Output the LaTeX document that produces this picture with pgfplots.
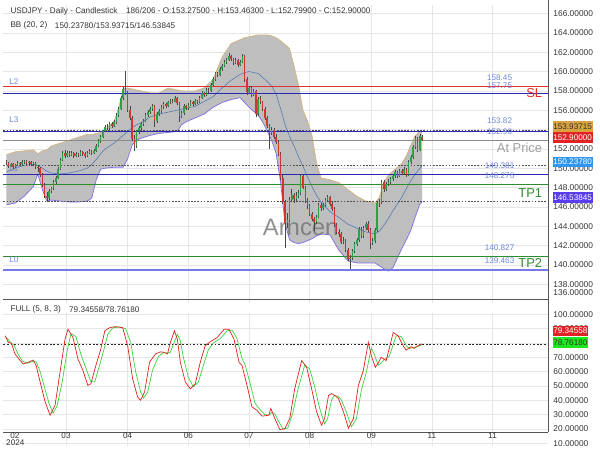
\documentclass[border=0pt]{standalone}
\usepackage{fontspec}
\setmainfont{Liberation Sans}
\usepackage{pgfplots}
\usepackage{pgfplotstable}
\pgfplotsset{compat=1.18}
\usepgfplotslibrary{fillbetween}

\definecolor{cgreen}{HTML}{2EA046}
\definecolor{cred}{HTML}{D73232}
\definecolor{wick}{HTML}{484848}
\definecolor{bbfill}{HTML}{BEBEBE}
\definecolor{bbup}{HTML}{D8B070}
\definecolor{bblo}{HTML}{786EE6}
\definecolor{bbmid}{HTML}{4678B4}
\definecolor{lvred}{HTML}{E03030}
\definecolor{lvblue}{HTML}{2828B4}
\definecolor{lvgreen}{HTML}{2E8B2E}
\definecolor{lvgray}{HTML}{8C8C8C}
\definecolor{lvzero}{HTML}{7878E6}
\definecolor{dotc}{HTML}{505050}
\definecolor{gridc}{HTML}{E6E6E6}
\definecolor{axisc}{HTML}{555555}
\definecolor{lblue}{HTML}{6F85DC}
\definecolor{txt}{HTML}{333333}
\definecolor{stred}{HTML}{E02020}
\definecolor{stgreen}{HTML}{3CD23C}
\definecolor{bdgold}{HTML}{D9A23C}
\definecolor{bdred}{HTML}{E02424}
\definecolor{bdblue}{HTML}{2F96F0}
\definecolor{bdpurple}{HTML}{5A3CF0}
\definecolor{bdgreen}{HTML}{1EE61E}

\newcommand\sm{\fontsize{8.2}{9.5}\selectfont}
\newcommand\bigf{\fontsize{13}{15}\selectfont}

% daily candles: bar index, open, high, low, close
\pgfplotstableread{
i o h l c
0 150.70 150.85 150.30 150.50
1 150.50 150.60 150.00 150.20
2 150.20 150.55 150.10 150.40
3 150.40 150.50 149.90 150.10
4 150.10 150.45 150.00 150.30
5 150.30 150.70 150.20 150.50
6 150.50 150.65 150.25 150.40
7 150.40 150.80 150.30 150.60
8 150.60 150.90 150.45 150.70
9 150.70 150.80 150.30 150.50
10 150.50 150.75 150.35 150.60
11 150.60 150.70 150.20 150.40
12 150.40 150.65 150.30 150.50
13 150.50 150.60 149.90 150.10
14 150.10 150.30 149.60 150.00
15 150.00 150.10 149.10 149.30
16 149.30 149.50 148.10 148.30
17 148.30 148.50 146.90 147.10
18 147.10 147.50 146.50 146.90
19 146.90 147.80 146.70 147.60
20 147.60 148.10 147.40 147.90
21 147.90 148.80 147.70 148.60
22 148.60 149.20 148.40 149.00
23 149.00 150.10 148.90 149.90
24 149.90 151.10 149.80 150.90
25 150.90 151.80 150.70 151.60
26 151.60 151.85 151.10 151.30
27 151.30 151.80 151.20 151.60
28 151.60 151.75 151.20 151.40
29 151.40 151.80 151.30 151.60
30 151.60 151.70 151.10 151.30
31 151.30 151.65 151.20 151.50
32 151.50 151.60 151.20 151.40
33 151.40 151.85 151.30 151.70
34 151.70 151.80 151.30 151.50
35 151.50 151.65 151.10 151.30
36 151.30 151.75 151.20 151.60
37 151.60 151.95 151.50 151.80
38 151.80 151.90 151.40 151.60
39 151.60 151.95 151.50 151.80
40 151.80 152.50 151.70 152.30
41 152.30 153.00 152.20 152.80
42 152.80 153.40 152.60 153.20
43 153.20 154.00 153.10 153.90
44 153.90 154.50 153.70 154.30
45 154.30 154.60 154.00 154.20
46 154.20 154.80 154.00 154.60
47 154.60 154.80 154.20 154.40
48 154.40 155.00 154.30 154.80
49 154.80 155.70 154.60 155.50
50 155.50 156.30 155.30 156.10
51 156.10 157.50 156.00 157.30
52 157.30 158.40 157.10 158.20
53 158.20 160.10 157.60 157.80
54 157.80 158.00 155.80 156.00
55 156.00 156.40 155.00 155.20
56 155.20 155.40 152.80 153.00
57 153.00 153.40 151.80 152.30
58 152.30 154.00 152.10 153.80
59 153.80 154.40 153.50 154.20
60 154.20 154.80 154.00 154.60
61 154.60 155.10 154.40 154.90
62 154.90 155.70 154.80 155.50
63 155.50 156.00 155.30 155.80
64 155.80 156.30 155.60 156.10
65 156.10 156.60 155.90 156.40
66 156.40 156.50 154.30 154.90
67 154.90 155.80 154.70 155.60
68 155.60 156.10 155.40 155.90
69 155.90 156.50 155.70 156.30
70 156.30 156.80 156.10 156.60
71 156.60 156.75 156.20 156.40
72 156.40 157.00 156.30 156.80
73 156.80 157.20 156.60 157.00
74 157.00 157.20 156.70 156.90
75 156.90 157.50 156.80 157.30
76 157.30 157.40 156.50 156.70
77 156.70 156.80 154.80 155.40
78 155.40 155.90 155.20 155.70
79 155.70 156.60 155.50 156.40
80 156.40 156.50 156.00 156.20
81 156.20 156.70 156.00 156.50
82 156.50 157.10 156.40 156.90
83 156.90 157.00 156.40 156.60
84 156.60 157.20 156.50 157.00
85 157.00 157.10 156.60 156.80
86 156.80 157.50 156.70 157.30
87 157.30 158.00 157.20 157.80
88 157.80 157.90 157.40 157.60
89 157.60 158.30 157.50 158.10
90 158.10 158.30 157.80 158.00
91 158.00 158.80 157.90 158.60
92 158.60 159.40 158.50 159.20
93 159.20 160.00 159.00 159.80
94 159.80 160.00 159.40 159.60
95 159.60 160.50 159.50 160.30
96 160.30 160.80 160.10 160.60
97 160.60 161.20 160.50 161.00
98 161.00 161.40 160.80 161.20
99 161.20 161.90 161.10 161.60
100 161.60 161.75 161.10 161.30
101 161.30 161.40 160.70 160.90
102 160.90 161.40 160.80 161.20
103 161.20 161.30 160.50 160.70
104 160.70 161.20 160.60 161.00
105 161.00 161.80 160.90 161.60
106 161.60 161.70 158.90 159.20
107 159.20 159.40 157.60 157.90
108 157.90 158.50 157.70 158.30
109 158.30 158.50 157.40 157.60
110 157.60 158.20 157.50 158.00
111 158.00 158.10 155.30 155.60
112 155.60 157.40 155.40 157.20
113 157.20 157.50 156.60 156.80
114 156.80 157.00 155.90 156.10
115 156.10 156.30 155.00 155.20
116 155.20 155.40 154.20 154.40
117 154.40 154.60 152.00 153.60
118 153.60 154.30 153.40 154.00
119 154.00 154.20 153.00 153.20
120 153.20 153.50 152.50 152.70
121 152.70 152.90 151.30 151.50
122 151.50 151.70 148.80 149.00
123 149.00 149.30 146.30 146.50
124 146.50 146.70 141.70 144.30
125 144.30 145.40 143.80 144.60
126 144.60 147.00 144.40 146.70
127 146.70 147.80 146.50 147.20
128 147.20 147.40 146.40 146.80
129 146.80 147.50 146.50 147.10
130 147.10 147.70 146.90 147.40
131 147.40 149.40 147.20 149.20
132 149.20 149.30 147.80 148.00
133 148.00 148.20 146.40 146.60
134 146.60 146.90 145.80 146.10
135 146.10 146.30 145.10 145.30
136 145.30 145.50 144.50 144.70
137 144.70 145.00 143.50 144.40
138 144.40 145.20 144.20 144.90
139 144.90 146.40 144.80 146.20
140 146.20 146.40 145.60 145.90
141 145.90 146.40 145.70 146.20
142 146.20 146.90 146.00 146.70
143 146.70 147.20 146.50 147.00
144 147.00 147.10 146.10 146.30
145 146.30 146.50 145.60 145.80
146 145.80 146.00 143.90 144.10
147 144.10 144.30 143.20 143.40
148 143.40 143.70 142.90 143.20
149 143.20 143.40 142.20 142.40
150 142.40 142.90 142.20 142.50
151 142.50 142.70 141.30 141.50
152 141.50 141.70 140.40 140.60
153 140.60 141.00 139.60 140.70
154 140.70 141.60 140.50 141.40
155 141.40 142.40 141.20 142.20
156 142.20 142.80 142.00 142.60
157 142.60 143.90 142.40 143.70
158 143.70 143.90 142.80 143.00
159 143.00 144.00 142.80 143.80
160 143.80 144.40 143.60 144.20
161 144.20 144.50 143.40 143.60
162 143.60 143.80 141.60 142.30
163 142.30 142.80 142.10 142.50
164 142.50 143.80 142.30 143.60
165 143.60 146.60 143.40 146.40
166 146.40 146.80 146.00 146.50
167 146.50 148.80 146.30 148.60
168 148.60 148.80 147.50 147.80
169 147.80 148.60 147.60 148.40
170 148.40 148.90 148.20 148.60
171 148.60 149.10 148.40 148.90
172 148.90 149.40 148.70 149.20
173 149.20 149.80 149.00 149.60
174 149.60 149.70 149.00 149.20
175 149.20 149.90 149.10 149.70
176 149.70 149.90 149.30 149.50
177 149.50 150.10 149.30 149.90
178 149.90 150.00 149.10 149.30
179 149.30 150.80 149.20 150.60
180 150.60 151.40 150.40 151.20
181 151.20 152.40 151.00 152.20
182 152.20 153.30 152.00 153.10
183 153.10 153.20 151.70 151.90
184 151.90 153.50 151.80 153.30
185 153.275 153.463 152.799 152.900
}\candles

% Bollinger bands (20,2): upper, middle, lower
\pgfplotstableread{
i u m d
0 151.4 149.6 146.2
4 151.7 150.0 146.4
8 151.8 150.3 147.1
12 151.9 150.4 148.1
14 151.5 150.3 149.4
16 151.8 150.0 147.8
18 151.9 149.7 146.6
20 152.3 149.5 146.7
24 152.6 149.4 146.6
28 152.9 149.5 146.5
32 153.2 149.7 146.5
36 153.5 150.0 146.6
38 153.5 150.4 146.9
40 153.6 150.9 148.8
42 153.7 151.5 149.9
44 154.0 152.0 150.0
48 154.9 152.6 150.1
50 156.3 153.0 150.1
52 158.2 153.4 150.1
54 158.3 153.8 151.0
56 158.2 154.2 152.4
58 158.1 154.5 152.9
60 158.0 154.7 153.1
64 157.8 155.3 153.4
68 157.8 155.6 153.6
72 158.3 155.8 153.7
76 158.1 156.0 153.8
78 158.0 156.1 154.5
80 158.0 156.2 154.8
84 158.0 156.4 155.2
88 158.3 156.9 155.6
92 159.2 157.4 156.3
96 161.5 158.3 156.8
100 162.9 159.1 157.1
104 163.3 159.7 157.3
106 163.5 159.9 156.8
108 163.6 160.0 156.3
110 163.7 159.9 155.9
112 163.8 159.8 155.5
114 163.8 159.4 154.8
116 163.8 159.0 153.9
118 163.7 158.5 152.9
120 163.5 157.7 151.6
122 163.2 156.2 148.6
124 162.8 154.5 144.3
126 162.4 153.3 142.6
128 160.6 152.3 142.3
130 158.6 151.2 142.2
132 156.0 150.2 142.3
134 154.9 149.1 142.5
136 153.4 148.1 142.7
138 150.6 147.2 143.0
140 149.0 146.5 143.2
144 148.8 145.5 143.1
148 148.5 144.9 141.5
152 147.8 144.2 140.4
156 147.1 143.8 140.2
160 146.6 143.4 140.2
164 146.4 143.2 140.2
166 147.0 143.5 139.9
168 148.6 144.1 139.6
170 149.3 144.8 139.35
172 149.7 145.6 139.7
174 150.1 146.3 140.7
176 150.5 147.0 141.7
178 151.3 147.9 142.6
180 152.4 148.7 143.6
182 153.4 149.4 145.0
184 153.85 150.0 146.3
185 153.937 150.238 146.538
}\bb

% stochastic FULL (5,8,3), x in chart pixels
\pgfplotstableread{
px k
1.7 85.0
5 80.4
8 79.9
11.7 72.3
16 68.5
20 65.3
25 66.5
30 68.1
33 64.2
37 52.7
42 38.8
47 29.5
52 36.5
57 59.6
62 82.6
65 89.6
70 83.8
75 68.8
80 60.8
85 50.4
88 51.5
93 64.2
98 75.7
102 88.5
107 90.7
113 91.4
120 90.7
125 78.1
130 55.0
135 42.3
138 40.0
142 45.7
147 66.5
153 72.3
158 73.8
162 73.4
165 72.3
168 80.4
172 88.5
175 82.6
178 66.5
183 52.7
188 48.0
193 51.5
198 66.5
203 78.1
208 80.8
215 83.8
222 89.6
227 89.6
232 82.6
237 66.5
240 64.2
245 50.4
250 35.3
255 33.0
260 28.9
264 29.2
267 29.6
269 34.2
273 27.2
278 19.5
283 20.0
288 27.2
293 48.0
300 67.7
305 63.0
310 48.0
315 31.9
320 22.5
323 27.2
327 43.4
330 44.6
334 43.0
337 41.1
342 31.9
347 20.5
352 27.2
357 50.4
362 60.8
367 80.4
370 71.2
374 63.0
377 66.0
380 70.0
385 67.7
392 87.3
397 85.0
402 78.1
405 75.0
410 77.4
413 76.2
417 78.1
421 79.35
}\stk

\pgfplotstableread{
px d
3 84.0
7 80.5
11 78.0
15 72.0
19 67.5
24 65.8
29 67.0
33 66.8
37 60.0
41 50.0
46 37.5
50 31.0
54 36.0
59 52.0
64 74.0
68 86.5
73 84.5
78 72.0
83 62.5
88 53.0
92 53.0
96 62.5
101 75.0
105 86.0
110 90.5
116 91.2
123 90.0
128 80.5
133 60.0
138 46.0
141 41.5
145 45.5
150 61.0
156 70.5
161 73.3
165 73.0
168 73.5
171 79.0
175 86.0
178 81.5
181 70.0
186 56.0
191 49.5
196 52.5
201 64.0
206 75.0
211 80.0
218 83.0
225 88.5
230 89.0
235 83.0
240 69.0
243 65.0
248 52.0
253 38.0
258 33.5
263 30.0
267 29.5
270 31.5
273 30.5
277 25.0
281 20.0
286 20.5
291 31.0
296 47.0
303 64.5
308 62.0
313 49.5
318 34.5
323 23.5
326 27.0
330 40.0
333 43.5
337 42.5
340 40.0
345 31.5
350 21.5
355 27.0
360 47.0
365 59.5
370 76.5
373 72.0
377 64.5
380 66.0
383 68.5
388 70.5
395 85.0
400 84.5
405 78.5
408 76.0
413 77.0
417 77.5
421 78.76
}\std

\pgfplotsset{
  chart/.style={
    scale only axis, anchor=south west, width=548pt,
    xmin=0, xmax=548, clip=false,
    axis line style={draw=none}, major tick length=0pt,
    xtick={63,125,186,247,308,370,431,492}, xticklabels={},
    grid=major, major grid style={draw=gridc, line width=0.5pt},
    yticklabel pos=right, scaled y ticks=false,
    yticklabel style={anchor=west, inner sep=0pt, xshift=5pt, text=txt,
      font=\fontsize{8.4}{10}\selectfont,
      /pgf/number format/.cd, fixed, fixed zerofill, precision=5, assume math mode=true},
  },
  candle/.style={draw=none, mark=none, forget plot,
    error bars/.cd, y dir=plus, y explicit, error mark=none},
}

\begin{document}
\pagecolor{white}
\begin{tikzpicture}[x=1pt,y=1pt]
\path (0,0) rectangle (600,450);

% ---------- price panel ----------
\begin{axis}[chart, at={(0,150)}, height=300pt,
  ymin=136.06, ymax=166.93, ytick={138,140,...,166}]
\addplot[draw=none, name path=bbu, forget plot] table[x expr=3+2.26*\thisrow{i}, y=u] {\bb};
\addplot[draw=none, name path=bbd, forget plot] table[x expr=3+2.26*\thisrow{i}, y=d] {\bb};
\addplot[fill=bbfill, forget plot] fill between[of=bbu and bbd];
\addplot[bbmid, line width=0.55pt] table[x expr=3+2.26*\thisrow{i}, y=m] {\bb};
\addplot[bbup, line width=0.6pt] table[x expr=3+2.26*\thisrow{i}, y=u] {\bb};
\addplot[bblo, line width=0.7pt] table[x expr=3+2.26*\thisrow{i}, y=d] {\bb};

\node[text=gray!85!black, opacity=0.75, font=\fontsize{24}{26}\selectfont] at (axis cs:299,143.9) {Arncen};
\node[text=lblue, font=\sm] at (axis cs:10.5,149.95) {L1};

% levels
\addplot[lvred, line width=0.8pt] coordinates {(0,158.45) (548,158.45)};
\addplot[lvblue, line width=0.8pt] coordinates {(0,157.75) (548,157.75)};
\addplot[dotc, line width=0.9pt, dash pattern=on 1.6pt off 1.6pt] coordinates {(0,153.93715) (548,153.93715)};
\addplot[lvblue, line width=0.8pt] coordinates {(0,153.82) (548,153.82)};
\addplot[lvgray, line width=0.8pt] coordinates {(0,152.90) (548,152.90)};
\addplot[dotc, line width=0.9pt, dash pattern=on 1.6pt off 1.6pt] coordinates {(0,150.2378) (548,150.2378)};
\addplot[lvblue, line width=0.8pt] coordinates {(0,149.381) (548,149.381)};
\addplot[lvgreen, line width=0.8pt] coordinates {(0,148.276) (548,148.276)};
\addplot[dotc, line width=0.9pt, dash pattern=on 1.6pt off 1.6pt] coordinates {(0,146.53845) (548,146.53845)};
\addplot[lvgreen, line width=0.8pt] coordinates {(0,140.827) (548,140.827)};
\addplot[lvzero, line width=1.1pt] coordinates {(0,139.463) (548,139.463)};

% candles: wick, then rising and falling bodies (zero length bodies vanish)
\addplot[candle, error bar style={draw=wick, line width=0.55pt}]
  table[x expr=3+2.26*\thisrow{i}, y=l, y error expr=\thisrow{h}-\thisrow{l}] {\candles};
\addplot[candle, error bar style={draw=cgreen, line width=1.5pt, line cap=butt}]
  table[x expr=3+2.26*\thisrow{i}, y=o, y error expr={max(\thisrow{c}-\thisrow{o},0)}] {\candles};
\addplot[candle, error bar style={draw=cred, line width=1.5pt, line cap=butt}]
  table[x expr=3+2.26*\thisrow{i}, y=c, y error expr={max(\thisrow{o}-\thisrow{c},0)}] {\candles};
\end{axis}

% ---------- stochastic panel ----------
\begin{axis}[chart, at={(0,16)}, height=133pt,
  ymin=8.3, ymax=100.7, ytick={10,20,...,100}]
\addplot[black!85, line width=1.2pt, dash pattern=on 1.8pt off 1.8pt] coordinates {(0,79.0) (548,79.0)};
\addplot[stgreen, line width=0.7pt] table[x=px, y=d] {\std};
\addplot[stred, line width=0.7pt] table[x=px, y=k] {\stk};
\end{axis}

% frame lines
\draw[axisc, line width=0.8pt] (548,450) -- (548,16);
\draw[axisc, line width=0.8pt] (0,149.5) -- (548,149.5);
\draw[axisc, line width=0.8pt] (0,16) -- (548,16);

% headers
\node[anchor=west, inner sep=0pt, text=txt, font=\sm] at (7,439.3) {USDJPY - Daily - Candlestick};
\node[anchor=west, inner sep=0pt, text=txt, font=\sm] at (123.3,439.3) {186/206 - O:153.27500 - H:153.46300 - L:152.79900 - C:152.90000};
\node[anchor=west, inner sep=0pt, text=txt, font=\sm] at (7,425) {BB (20, 2)};
\node[anchor=west, inner sep=0pt, text=txt, font=\sm] at (51.7,425) {150.23780/153.93715/146.53845};
\node[anchor=west, inner sep=0pt, text=txt, font=\sm] at (7,139) {FULL (5, 8, 3)};
\node[anchor=west, inner sep=0pt, text=txt, font=\sm] at (66,139) {79.34558/78.76180};

% date labels
\begin{scope}[every node/.style={inner sep=0pt, text=txt, font=\sm}]
\node at (11.5,12.5) {02};
\node at (12,5) {2024};
\node at (63,12.5) {03};
\node at (125,12.5) {04};
\node at (186,12.5) {06};
\node at (247,12.5) {07};
\node at (308,12.5) {08};
\node at (370,12.5) {09};
\node at (431,12.5) {11};
\node at (492,12.5) {11};
\end{scope}

% level labels
\begin{scope}[every node/.style={inner sep=0pt, text=lblue, font=\sm}]
\node at (499,372.3) {158.45};
\node at (499,364.3) {157.75};
\node at (499,329) {153.82};
\node at (499,318.3) {152.90};
\node at (499,284) {149.381};
\node at (499,273.3) {148.276};
\node at (499,201) {140.827};
\node at (499,188.3) {139.463};
\node at (10.5,368) {L2};
\node at (10.5,330.3) {L3};
\node at (10.5,189.7) {L0};
\end{scope}
\node[anchor=east, inner sep=0pt, text=lvred, font=\bigf] at (542,356.7) {SL};
\node[anchor=east, inner sep=0pt, text=gray!75, font=\bigf] at (542,301.7) {At Price};
\node[anchor=east, inner sep=0pt, text=lvgreen, font=\bigf] at (542,256.7) {TP1};
\node[anchor=east, inner sep=0pt, text=lvgreen, font=\bigf] at (542,186) {TP2};

% price label that sits above the panel edge
\node[anchor=west, inner sep=0pt, text=txt, font=\fontsize{8.4}{10}\selectfont] at (553,156) {136.00000};

% value badges
\begin{scope}[every node/.style={anchor=west, inner xsep=0.6pt, inner ysep=0pt, minimum height=10.5pt, font=\sm}]
\node[fill=bdgold, text=txt] at (552.3,323.3) {153.93715};
\node[fill=bdred, text=white] at (552.3,312) {152.90000};
\node[fill=bdblue, text=white] at (552.3,287.3) {150.23780};
\node[fill=bdpurple, text=white] at (552.3,252) {146.53845};
\node[fill=bdred, text=white] at (552.3,117.7) {79.34558};
\node[fill=bdgreen, text=txt] at (552.3,106) {78.76180};
\end{scope}
\end{tikzpicture}
\end{document}
